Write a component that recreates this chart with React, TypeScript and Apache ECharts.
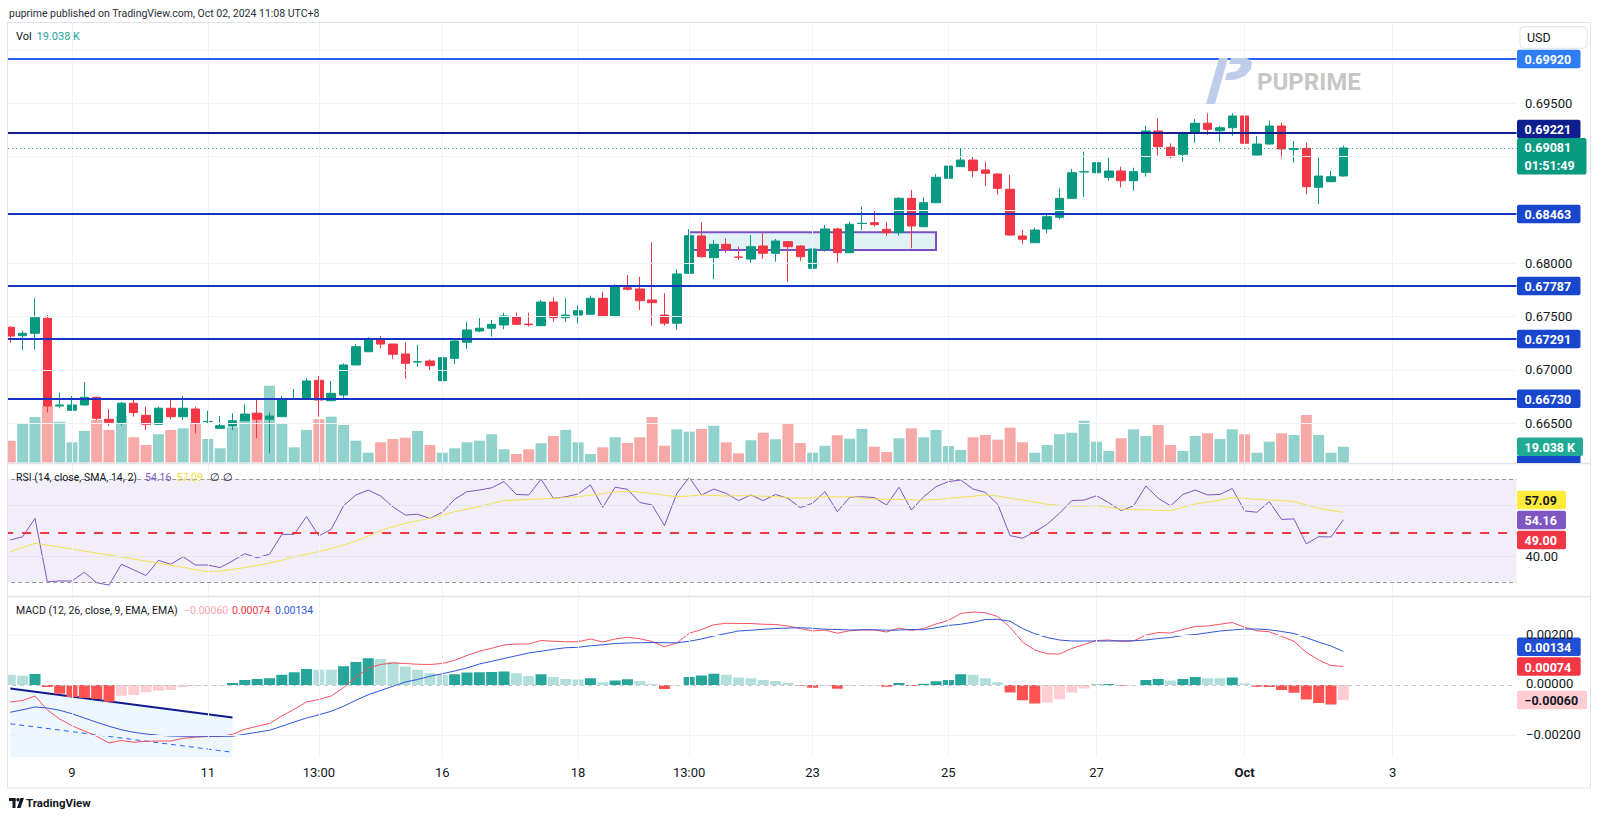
import React, { useEffect, useRef } from 'react';
import * as echarts from 'echarts';

const FONT = "Roboto, 'Noto Sans', Arial, sans-serif";

// ---------- DATA ----------
const openP = [0.67400,0.67321,0.67344,0.67484,0.66662,0.66622,0.66672,0.66744,0.66538,0.66506,
 0.66688,0.66575,0.66491,0.66641,0.66562,0.66634,0.66515,0.66453,0.66475,0.66524,
 0.66594,0.66538,0.66562,0.66728,0.66725,0.66903,0.66712,0.66765,0.67047,0.67171,
 0.67288,0.67243,0.67150,0.67075,0.67084,0.66899,0.67109,0.67259,0.67365,0.67391,
 0.67422,0.67500,0.67430,0.67415,0.67637,0.67490,0.67515,0.67522,0.67672,0.67500,
 0.67771,0.67759,0.67656,0.67515,0.67438,0.67906,0.68256,0.68053,0.68178,0.68059,
 0.68040,0.68162,0.68094,0.68203,0.68162,0.67953,0.68131,0.68322,0.68099,0.68373,
 0.68381,0.68319,0.68287,0.68609,0.68343,0.68568,0.68797,0.68906,0.68968,0.68875,
 0.68837,0.68694,0.68256,0.68193,0.68322,0.68431,0.68609,0.68856,0.68849,0.68806,
 0.68865,0.68774,0.68853,0.69240,0.69088,0.69022,0.69219,0.69313,0.69243,0.69271,
 0.69381,0.69015,0.69118,0.69287,0.69068,0.69078,0.68713,0.68765,0.68818];
const highP = [0.67410,0.67368,0.67672,0.67515,0.66787,0.66756,0.66887,0.66748,0.66634,0.66700,
 0.66728,0.66656,0.66656,0.66728,0.66756,0.66656,0.66618,0.66568,0.66594,0.66678,
 0.66728,0.66603,0.66756,0.66822,0.66922,0.66943,0.66897,0.67062,0.67243,0.67306,
 0.67318,0.67245,0.67259,0.67234,0.67100,0.67150,0.67288,0.67452,0.67487,0.67468,
 0.67537,0.67537,0.67537,0.67656,0.67681,0.67672,0.67606,0.67696,0.67734,0.67803,
 0.67890,0.67874,0.68197,0.67719,0.67944,0.68319,0.68384,0.68218,0.68234,0.68156,
 0.68265,0.68287,0.68228,0.68206,0.68169,0.68140,0.68359,0.68334,0.68390,0.68531,
 0.68490,0.68390,0.68620,0.68687,0.68619,0.68837,0.68922,0.69078,0.69006,0.68953,
 0.68846,0.68828,0.68312,0.68334,0.68469,0.68703,0.68884,0.69046,0.69025,0.68990,
 0.68906,0.68896,0.69290,0.69359,0.69125,0.69234,0.69353,0.69406,0.69287,0.69406,
 0.69416,0.69193,0.69337,0.69318,0.69147,0.69131,0.68990,0.68865,0.69103];
const lowP = [0.67256,0.67187,0.67194,0.66600,0.66641,0.66620,0.66668,0.66531,0.66475,0.66478,
 0.66562,0.66437,0.66485,0.66538,0.66531,0.66406,0.66500,0.66450,0.66437,0.66520,
 0.66359,0.66219,0.66560,0.66719,0.66725,0.66562,0.66706,0.66734,0.67045,0.67170,
 0.67203,0.67103,0.66915,0.67031,0.66993,0.66895,0.67056,0.67197,0.67353,0.67312,
 0.67381,0.67425,0.67406,0.67412,0.67452,0.67452,0.67437,0.67520,0.67497,0.67497,
 0.67743,0.67562,0.67415,0.67415,0.67375,0.67900,0.68053,0.67853,0.68099,0.68031,
 0.67993,0.68040,0.68015,0.67822,0.68024,0.67944,0.68109,0.68006,0.68097,0.68312,
 0.68343,0.68256,0.68260,0.68141,0.68340,0.68565,0.68750,0.68903,0.68806,0.68725,
 0.68640,0.68260,0.68181,0.68190,0.68281,0.68412,0.68606,0.68624,0.68845,0.68772,
 0.68712,0.68681,0.68812,0.69009,0.68984,0.68953,0.69131,0.69203,0.69140,0.69196,
 0.68984,0.69012,0.69115,0.68984,0.68943,0.68647,0.68556,0.68762,0.68815];
const closeP = [0.67318,0.67344,0.67490,0.66662,0.66672,0.66672,0.66744,0.66547,0.66509,0.66688,
 0.66600,0.66491,0.66641,0.66562,0.66641,0.66506,0.66518,0.66478,0.66524,0.66587,
 0.66538,0.66568,0.66728,0.66732,0.66897,0.66718,0.66781,0.67047,0.67218,0.67288,
 0.67243,0.67147,0.67062,0.67077,0.67040,0.67115,0.67272,0.67375,0.67391,0.67428,
 0.67506,0.67428,0.67425,0.67637,0.67490,0.67515,0.67556,0.67672,0.67500,0.67781,
 0.67756,0.67649,0.67631,0.67438,0.67900,0.68259,0.68062,0.68178,0.68131,0.68056,
 0.68156,0.68094,0.68209,0.68156,0.68062,0.68134,0.68322,0.68099,0.68366,0.68375,
 0.68362,0.68287,0.68609,0.68350,0.68568,0.68806,0.68912,0.68968,0.68868,0.68844,
 0.68703,0.68265,0.68225,0.68312,0.68437,0.68609,0.68849,0.68859,0.68943,0.68865,
 0.68774,0.68859,0.69240,0.69093,0.68999,0.69219,0.69313,0.69256,0.69271,0.69381,
 0.69125,0.69118,0.69287,0.69072,0.69075,0.68718,0.68818,0.68812,0.69081];
const volumeK = [26.3,47.2,54.8,68.1,49.2,24.3,38.0,51.2,39.2,56.0,
 30.4,21.1,34.0,39.2,41.2,48.0,28.3,17.1,42.4,51.2,
 60.0,92.5,47.2,18.3,39.2,52.1,55.2,45.2,26.3,11.8,
 24.3,28.3,29.9,38.0,21.1,11.8,17.1,24.3,26.3,34.0,
 15.9,10.2,15.9,23.1,31.9,39.2,24.3,10.2,18.3,30.4,
 23.5,30.4,54.8,20.2,40.0,37.1,40.4,44.3,24.3,11.1,
 26.8,35.9,28.0,47.6,23.5,11.8,20.2,32.8,28.7,40.4,
 19.0,12.7,29.2,41.2,30.4,39.2,19.9,15.1,30.4,33.1,
 27.5,41.9,24.3,11.8,21.1,34.0,35.9,50.4,25.1,13.9,
 29.2,40.0,31.9,45.2,21.1,13.9,31.9,35.2,28.3,40.0,
 34.0,11.8,25.1,35.2,33.1,57.2,33.1,11.8,19.038];
const rsiVals = [46.3,47.6,54.7,30.1,30.4,30.4,33.8,29.7,28.8,36.9,
 34.7,32.5,38.4,36.9,39.8,36.6,36.6,35.6,38.2,41.0,
 39.4,40.8,48.5,48.5,55.4,47.9,50.5,59.6,63.8,65.7,
 63.4,59.2,56.0,56.3,54.7,57.1,62.1,65.1,65.7,66.6,
 69.0,64.0,63.8,69.9,62.5,63.1,64.2,67.7,59.0,66.8,
 66.0,60.9,59.9,51.9,64.4,70.6,63.8,66.1,64.4,61.6,
 63.8,61.6,64.0,62.5,58.9,60.6,65.1,57.3,62.9,63.1,
 62.8,59.9,66.8,58.0,63.1,67.0,69.0,69.6,66.1,64.8,
 60.2,48.0,47.0,49.5,52.4,56.7,61.6,61.8,63.5,60.8,
 57.7,59.6,67.3,62.5,59.6,64.0,65.7,63.8,64.0,66.3,
 57.6,57.1,61.2,54.3,54.5,44.8,47.6,47.5,54.16];
const rsiMa = [41.8,43.4,45.0,44.3,43.6,42.8,42.0,41.2,40.5,39.7,
 38.9,38.1,37.3,36.5,35.7,34.8,34.0,34.3,34.9,35.6,
 36.4,37.3,38.5,39.8,40.8,41.8,43.0,44.4,45.9,47.8,
 50.0,51.4,52.8,53.8,54.7,56.0,57.3,58.3,59.3,60.5,
 61.6,61.9,62.1,62.3,62.5,62.8,63.1,63.7,64.4,64.9,
 65.3,64.9,64.4,63.7,63.1,63.4,63.8,63.6,63.4,63.5,
 63.5,63.3,63.1,62.8,62.5,62.8,63.1,63.1,63.1,62.6,
 62.2,62.1,62.1,61.9,61.8,62.0,62.5,62.9,63.3,63.8,
 63.4,62.5,61.8,61.0,60.2,59.8,59.5,59.5,59.6,59.0,
 58.3,58.1,58.0,57.8,57.7,59.0,60.3,61.0,61.8,62.8,
 62.5,62.1,61.9,61.6,61.2,59.9,58.6,57.8,57.09];
const macdLine = [-0.00068,-0.00062,-0.00044,-0.00100,-0.00136,-0.00163,-0.00184,-0.00205,-0.00232,-0.00222,
 -0.00229,-0.00225,-0.00224,-0.00224,-0.00213,-0.00209,-0.00206,-0.00206,-0.00197,-0.00177,
 -0.00165,-0.00154,-0.00124,-0.00097,-0.00068,-0.00058,-0.00044,-0.00010,0.00031,0.00068,
 0.00082,0.00088,0.00086,0.00083,0.00082,0.00086,0.00099,0.00118,0.00135,0.00147,
 0.00160,0.00164,0.00164,0.00178,0.00175,0.00173,0.00173,0.00184,0.00172,0.00184,
 0.00191,0.00185,0.00174,0.00153,0.00168,0.00207,0.00222,0.00241,0.00247,0.00246,
 0.00246,0.00243,0.00242,0.00236,0.00226,0.00216,0.00220,0.00207,0.00217,0.00220,
 0.00220,0.00212,0.00228,0.00218,0.00226,0.00244,0.00258,0.00286,0.00292,0.00289,
 0.00274,0.00231,0.00172,0.00140,0.00125,0.00124,0.00146,0.00162,0.00178,0.00180,
 0.00174,0.00176,0.00200,0.00210,0.00208,0.00222,0.00234,0.00236,0.00243,0.00250,
 0.00231,0.00217,0.00213,0.00194,0.00175,0.00131,0.00100,0.00078,0.00074];
const signalLine = [-0.00109,-0.00099,-0.00088,-0.00092,-0.00101,-0.00115,-0.00132,-0.00149,-0.00165,-0.00179,
 -0.00189,-0.00196,-0.00201,-0.00204,-0.00205,-0.00205,-0.00205,-0.00205,-0.00205,-0.00197,
 -0.00189,-0.00181,-0.00165,-0.00148,-0.00132,-0.00119,-0.00105,-0.00085,-0.00061,-0.00039,
 -0.00022,-0.00005,0.00012,0.00022,0.00035,0.00045,0.00056,0.00068,0.00084,0.00095,
 0.00106,0.00117,0.00128,0.00135,0.00143,0.00149,0.00151,0.00157,0.00161,0.00166,
 0.00168,0.00169,0.00170,0.00169,0.00169,0.00175,0.00184,0.00196,0.00206,0.00216,
 0.00219,0.00223,0.00226,0.00228,0.00229,0.00227,0.00223,0.00222,0.00220,0.00221,
 0.00221,0.00219,0.00220,0.00222,0.00221,0.00229,0.00238,0.00243,0.00251,0.00262,
 0.00263,0.00255,0.00226,0.00205,0.00190,0.00180,0.00176,0.00176,0.00176,0.00176,
 0.00177,0.00177,0.00180,0.00186,0.00190,0.00198,0.00202,0.00209,0.00216,0.00220,
 0.00224,0.00224,0.00221,0.00214,0.00206,0.00189,0.00172,0.00156,0.00134];
const macdHist = [0.00041,0.00037,0.00044,-0.00008,-0.00035,-0.00048,-0.00052,-0.00056,-0.00067,-0.00043,
 -0.00040,-0.00029,-0.00023,-0.00020,-0.00008,-0.00004,-0.00001,-0.00001,0.00008,0.00020,
 0.00024,0.00027,0.00041,0.00051,0.00064,0.00061,0.00061,0.00075,0.00092,0.00107,
 0.00104,0.00093,0.00074,0.00061,0.00047,0.00041,0.00043,0.00050,0.00051,0.00052,
 0.00054,0.00047,0.00036,0.00043,0.00032,0.00024,0.00022,0.00027,0.00011,0.00018,
 0.00023,0.00016,0.00004,-0.00016,-0.00001,0.00032,0.00038,0.00045,0.00041,0.00030,
 0.00027,0.00020,0.00016,0.00008,-0.00003,-0.00011,-0.00003,-0.00015,-0.00003,-0.00001,
 -0.00001,-0.00007,0.00008,-0.00004,0.00005,0.00015,0.00020,0.00043,0.00041,0.00027,
 0.00011,-0.00030,-0.00061,-0.00074,-0.00070,-0.00057,-0.00030,-0.00014,0.00002,0.00004,
 -0.00003,-0.00001,0.00020,0.00024,0.00018,0.00024,0.00032,0.00027,0.00027,0.00030,
 0.00007,-0.00007,-0.00008,-0.00020,-0.00031,-0.00058,-0.00072,-0.00078,-0.00060];

const tickIdx = [5, 16, 25, 35, 46, 55, 65, 76, 88, 100, 112];
const tickText = ['9', '11', '13:00', '16', '18', '13:00', '23', '25', '27', 'Oct', '3'];
const priceGrid = [0.665, 0.670, 0.675, 0.680, 0.685, 0.690, 0.695, 0.700];
const priceLabels = [0.695, 0.680, 0.675, 0.670, 0.665];
const levels = [0.69920, 0.69221, 0.68463, 0.67787, 0.67291, 0.66730];
const levelLine = ['#2962ff', '#0e1e8e', '#1634c2', '#1634c2', '#1634c2', '#1634c2'];
const levelBadge = ['#2e7cf6', '#0e1e8e', '#1846cc', '#1846cc', '#1846cc', '#1846cc'];
const lastPrice = 0.69081;
const countdown = '01:51:49';
const rangeBox = { from: 55, to: 75, top: 0.68291, bottom: 0.68125 };
const rsiBands = { upper: 70, lower: 30, level: 49, grid: [40, 60] };
const macdGrid = [0.002, -0.002];
const channel = { x0: 0, x1: 18, top0: -0.00014, top1: -0.0013, mid0: -0.00155, mid1: -0.00269 };

// ---------- LAYOUT ----------
const N = 123;
const cats = Array.from({ length: N }, (_, i) => String(i));
const GL = 4.13;
const GW = 1518.2;
const PRICE_MIN = 0.661325, PRICE_MAX = 0.702575;
const VOL_MAX = 530;
const RSI_MIN = 24.56, RSI_MAX = 75.83;
const MACD_MIN = -0.00288, MACD_MAX = 0.00352;
const GRID = '#f0f3fa';
const TXT = '#131722';

function fmt5(v: number) {
  const s = Math.abs(v).toFixed(5);
  return (v < 0 ? '\u2212' : '') + s;
}

function buildOption(): any {
  const xAx = (g: number, show: boolean) => ({
    type: 'category', gridIndex: g, data: cats, boundaryGap: true,
    axisLine: { show: false }, axisTick: { show: false }, splitLine: { show: false },
    axisLabel: show ? {
      show: true, interval: 0, margin: 9, color: TXT, fontSize: 13, fontFamily: FONT,
      formatter: (_v: string, idx: number) => {
        const k = tickIdx.indexOf(idx);
        if (k < 0) return '';
        return tickText[k] === 'Oct' ? '{b|Oct}' : tickText[k];
      },
      rich: { b: { fontWeight: 'bold', fontSize: 13, color: TXT, fontFamily: FONT } },
    } : { show: false },
  });
  const vLines = tickIdx.map((i) => ({ xAxis: i, lineStyle: { color: GRID, width: 1, type: 'solid' } }));
  const ml = (data: any[]) => ({ silent: true, precision: 8, symbol: ['none', 'none'], label: { show: false }, animation: false, data });

  const volData = volumeK.map((v, i) => ({
    value: v,
    itemStyle: { color: closeP[i] >= openP[i] ? 'rgba(38,166,154,0.5)' : 'rgba(239,83,80,0.5)' },
  }));
  const candleData = openP.map((o, i) => [o, closeP[i], lowP[i], highP[i]]);
  const histData = macdHist.map((h, i) => {
    const prev = i > 0 ? macdHist[i - 1] : h;
    let c: string;
    if (h >= 0) c = i > 0 && h > prev ? '#26a69a' : '#b2dfdb';
    else c = h < prev ? '#ff5252' : '#ffcdd2';
    return { value: h, itemStyle: { color: c } };
  });

  return {
    animation: false,
    backgroundColor: '#ffffff',
    grid: [
      { left: GL, top: 22.5, width: GW, height: 440 },
      { left: GL, top: 464, width: GW, height: 132 },
      { left: GL, top: 597, width: GW, height: 160 },
    ],
    xAxis: [xAx(0, false), xAx(1, false), xAx(2, true)],
    yAxis: [
      { type: 'value', gridIndex: 0, min: PRICE_MIN, max: PRICE_MAX, show: false },
      { type: 'value', gridIndex: 0, min: 0, max: VOL_MAX, show: false },
      { type: 'value', gridIndex: 1, min: RSI_MIN, max: RSI_MAX, show: false },
      { type: 'value', gridIndex: 2, min: MACD_MIN, max: MACD_MAX, show: false },
    ],
    series: [
      {
        name: 'gridHelper', type: 'line', xAxisIndex: 0, yAxisIndex: 0, data: [], z: 0, silent: true,
        markLine: ml(priceGrid.map((v) => ({ yAxis: v, lineStyle: { color: GRID, width: 1, type: 'solid' } }))),
        markArea: {
          silent: true,
          itemStyle: { color: 'rgba(0,151,167,0.12)', borderColor: '#7b4fc4', borderWidth: 2 },
          data: [[{ xAxis: rangeBox.from, yAxis: rangeBox.top }, { xAxis: rangeBox.to, yAxis: rangeBox.bottom }]],
        },
      },
      {
        name: 'Vol', type: 'bar', xAxisIndex: 0, yAxisIndex: 1, data: volData, barWidth: 11, z: 1, silent: true,
        markLine: ml(vLines),
      },
      {
        name: 'Price', type: 'candlestick', xAxisIndex: 0, yAxisIndex: 0, data: candleData, barWidth: 9, z: 3,
        itemStyle: { color: '#089981', color0: '#f23645', borderColor: '#089981', borderColor0: '#f23645', borderWidth: 1 },
      },
      {
        name: 'drawings', type: 'line', xAxisIndex: 0, yAxisIndex: 0, data: [], z: 4, silent: true,
        markLine: ml([
          ...levels.map((v, k) => ({ yAxis: v, lineStyle: { color: levelLine[k], width: 2, type: 'solid' } })),
          { yAxis: lastPrice, lineStyle: { color: '#089981', width: 1, type: [1, 3] } },
        ]),
      },
      {
        name: 'RSI', type: 'line', xAxisIndex: 1, yAxisIndex: 2, data: rsiVals, showSymbol: false, z: 3,
        lineStyle: { color: '#7e57c2', width: 1 },
        markArea: {
          silent: true, itemStyle: { color: 'rgba(126,87,194,0.1)' },
          data: [[{ yAxis: rsiBands.lower }, { yAxis: rsiBands.upper }]],
        },
        markLine: ml([
          ...vLines,
          ...rsiBands.grid.map((v) => ({ yAxis: v, lineStyle: { color: '#e6e3ee', width: 1, type: 'solid' } })),
          { yAxis: rsiBands.upper, lineStyle: { color: '#9598a1', width: 1, type: [4, 3] } },
          { yAxis: rsiBands.lower, lineStyle: { color: '#9598a1', width: 1, type: [4, 3] } },
          { yAxis: rsiBands.level, lineStyle: { color: '#f23645', width: 2, type: [9, 9] } },
        ]),
      },
      {
        name: 'RSI MA', type: 'line', xAxisIndex: 1, yAxisIndex: 2, data: rsiMa, showSymbol: false, z: 3,
        lineStyle: { color: '#f7e04e', width: 1 },
      },
      {
        name: 'Histogram', type: 'bar', xAxisIndex: 2, yAxisIndex: 3, data: histData, barWidth: 11, z: 2,
        markLine: ml([
          ...vLines,
          ...macdGrid.map((v) => ({ yAxis: v, lineStyle: { color: GRID, width: 1, type: 'solid' } })),
          { yAxis: 0, lineStyle: { color: '#c3c6ce', width: 1, type: [4, 4] } },
        ]),
      },
      {
        name: 'channel', type: 'custom', xAxisIndex: 2, yAxisIndex: 3, data: [[0, 0]], z: 1, silent: true,
        renderItem: (_p: any, api: any) => {
          const t0 = api.coord([channel.x0, channel.top0]);
          const t1 = api.coord([channel.x1, channel.top1]);
          const m0 = api.coord([channel.x0, channel.mid0]);
          const m1 = api.coord([channel.x1, channel.mid1]);
          const b0 = api.coord([channel.x0, MACD_MIN]);
          const b1 = api.coord([channel.x1, MACD_MIN]);
          return {
            type: 'group',
            children: [
              { type: 'polygon', shape: { points: [t0, t1, b1, b0] }, style: { fill: 'rgba(33,150,243,0.08)' } },
              { type: 'line', shape: { x1: t0[0], y1: t0[1], x2: t1[0], y2: t1[1] }, style: { stroke: '#0d1b8e', lineWidth: 2 } },
              { type: 'line', shape: { x1: m0[0], y1: m0[1], x2: m1[0], y2: m1[1] }, style: { stroke: '#2962ff', lineWidth: 1, lineDash: [5, 4] } },
            ],
          };
        },
      },
      {
        name: 'MACD', type: 'line', xAxisIndex: 2, yAxisIndex: 3, data: macdLine, showSymbol: false, z: 3,
        lineStyle: { color: '#f7525f', width: 1 },
      },
      {
        name: 'Signal', type: 'line', xAxisIndex: 2, yAxisIndex: 3, data: signalLine, showSymbol: false, z: 3,
        lineStyle: { color: '#2f55d4', width: 1 },
      },
    ],
  };
}

function buildGraphics(chart: any): any[] {
  const yP = (v: number) => chart.convertToPixel({ yAxisIndex: 0 }, v) as number;
  const yV = (v: number) => chart.convertToPixel({ yAxisIndex: 1 }, v) as number;
  const yR = (v: number) => chart.convertToPixel({ yAxisIndex: 2 }, v) as number;
  const yM = (v: number) => chart.convertToPixel({ yAxisIndex: 3 }, v) as number;
  const Z = 100;
  const g: any[] = [];
  const text = (t: string, x: number, y: number, fill: string, size: number, weight: any = 'normal', align = 'left') =>
    g.push({ type: 'text', z: Z + 2, style: { text: t, x, y, fill, fontSize: size, fontFamily: FONT, fontWeight: weight, align, verticalAlign: 'middle' } });
  const rect = (x: number, y: number, w: number, h: number, fill: string, r = 0, stroke?: string) =>
    g.push({ type: 'rect', z: Z + 1, shape: { x, y, width: w, height: h, r }, style: { fill, stroke, lineWidth: stroke ? 1 : 0 } });
  const line = (x1: number, y1: number, x2: number, y2: number, stroke: string, w = 1) =>
    g.push({ type: 'line', z: Z + 1, shape: { x1, y1, x2, y2 }, style: { stroke, lineWidth: w } });
  const badge = (yc: number, w: number, fill: string, t: string, color = '#ffffff', h = 18.5) => {
    rect(1517, yc - h / 2, w, h, fill, 2);
    text(t, 1524.5, yc + 0.5, color, 12.5, 'bold');
  };

  // cover outside plot
  g.push({ type: 'rect', z: Z, shape: { x: 0, y: 22, width: 7.5, height: 767 }, style: { fill: '#ffffff' } });
  g.push({ type: 'rect', z: Z, shape: { x: 1516.5, y: 22.5, width: 74, height: 735 }, style: { fill: '#ffffff' } });

  // frame
  const FR = '#e0e3eb';
  line(7.5, 22.5, 1590.5, 22.5, FR);
  line(7.5, 22.5, 7.5, 788, FR);
  line(1590.5, 22.5, 1590.5, 788, FR);
  line(7.5, 788, 1590.5, 788, FR);
  line(7.5, 463.5, 1590.5, 463.5, FR, 1.5);
  line(7.5, 596.5, 1590.5, 596.5, FR, 1.5);

  // header
  text('puprime published on TradingView.com, Oct 02, 2024 11:08 UTC+8', 9, 13, '#2a2e39', 10.5);

  // watermark
  g.push({ type: 'polygon', z: Z, shape: { points: [[1206, 104], [1215, 104], [1228, 58], [1219, 58]] }, style: { fill: '#bfcdea' } });
  g.push({ type: 'polygon', z: Z, shape: { points: [[1231, 58], [1247, 58], [1252, 62], [1251, 69], [1245, 76], [1234, 80], [1225, 80], [1227, 73], [1237, 71], [1241, 66], [1240, 64], [1229, 64]] }, style: { fill: '#bfcdea' } });
  g.push({ type: 'text', z: Z, style: { text: 'PUPRIME', x: 1257, y: 82, fill: '#c6c6c6', fontSize: 24, fontWeight: 'bold', fontFamily: FONT, verticalAlign: 'middle' } });

  // legends
  text('Vol', 16, 36, TXT, 11);
  text('19.038 K', 36.5, 36, '#26a69a', 11);
  text('RSI (14, close, SMA, 14, 2)', 16, 477.7, TXT, 10.5);
  text(rsiVals[rsiVals.length - 1].toFixed(2), 145, 477.7, '#7e57c2', 10.5);
  text(rsiMa[rsiMa.length - 1].toFixed(2), 176.5, 477.7, '#f2d635', 10.5);
  text('\u2205', 210, 477.7, TXT, 10.5);
  text('\u2205', 222.5, 477.7, TXT, 10.5);
  text('MACD (12, 26, close, 9, EMA, EMA)', 16, 610.7, TXT, 10.5);
  text(fmt5(macdHist[macdHist.length - 1]), 184, 610.7, '#f7a5ad', 10.5);
  text(fmt5(macdLine[macdLine.length - 1]), 232, 610.7, '#f23645', 10.5);
  text(fmt5(signalLine[signalLine.length - 1]), 275, 610.7, '#2f55d4', 10.5);

  // USD box
  rect(1520, 26.7, 67, 21.6, '#ffffff', 4, '#e0e3eb');
  text('USD', 1527, 37.8, TXT, 12.5);

  // price axis labels
  priceLabels.forEach((v) => text(v.toFixed(5), 1525, yP(v), TXT, 13));
  // level badges
  const shift = [0.5, -4, 0, 0, 0, 0];
  levels.forEach((v, k) => badge(yP(v) + shift[k], 63.5, levelBadge[k], v.toFixed(5)));
  // last price badge
  const lp = yP(lastPrice);
  rect(1517, lp - 10, 69.5, 36.5, '#089981', 2);
  text(lastPrice.toFixed(5), 1524.5, lp, '#ffffff', 12.5, 'bold');
  text(countdown, 1524.5, lp + 18, '#ffffff', 12.5, 'bold');
  // volume badge
  badge(yV(volumeK[volumeK.length - 1]), 66, '#22ab94', '19.038 K');
  rect(1517, 456, 63.5, 7, '#1846cc', 0);

  // RSI axis
  text('40.00', 1525.5, yR(40), TXT, 13);
  const rsiBadges = [
    { y: 500, fill: '#ffeb3b', t: rsiMa[rsiMa.length - 1].toFixed(2), c: TXT },
    { y: 520, fill: '#7e57c2', t: rsiVals[rsiVals.length - 1].toFixed(2), c: '#ffffff' },
    { y: 540, fill: '#f23645', t: rsiBands.level.toFixed(2), c: '#ffffff' },
  ];
  rsiBadges.forEach((b) => badge(b.y, 49, b.fill, b.t, b.c));

  // MACD axis
  text('0.00200', 1526, yM(0.002) - 1, TXT, 13);
  text('0.00000', 1526, yM(0) - 1.5, TXT, 13);
  text(fmt5(-0.002), 1526, yM(-0.002) - 1, TXT, 13);
  badge(yM(signalLine[signalLine.length - 1]) - 4.7, 63.7, '#1f4fd2', fmt5(signalLine[signalLine.length - 1]));
  badge(yM(macdLine[macdLine.length - 1]), 63.7, '#f23645', fmt5(macdLine[macdLine.length - 1]));
  badge(yM(macdHist[macdHist.length - 1]), 70, '#ffcdd2', fmt5(macdHist[macdHist.length - 1]), TXT);

  // footer logo
  g.push({ type: 'rect', z: Z, shape: { x: 9, y: 798, width: 6.5, height: 3 }, style: { fill: TXT } });
  g.push({ type: 'rect', z: Z, shape: { x: 12.5, y: 798, width: 3, height: 10 }, style: { fill: TXT } });
  g.push({ type: 'circle', z: Z, shape: { cx: 18, cy: 799.8, r: 1.7 }, style: { fill: TXT } });
  g.push({ type: 'polygon', z: Z, shape: { points: [[20.5, 798], [24, 798], [20.5, 808], [17, 808]] }, style: { fill: TXT } });
  text('TradingView', 26, 803, TXT, 11.5, 'bold');
  return g;
}

export default function App() {
  const ref = useRef<HTMLDivElement>(null);
  useEffect(() => {
    const el = ref.current;
    if (!el) return;
    const chart = echarts.init(el, null, { renderer: 'svg' });
    chart.setOption(buildOption());
    chart.setOption({ graphic: buildGraphics(chart) });
    return () => chart.dispose();
  }, []);
  return (
    <div
      ref={ref}
      style={{ position: 'absolute', left: 0, top: 0, width: 1600, height: 819, background: '#ffffff' }}
    />
  );
}
